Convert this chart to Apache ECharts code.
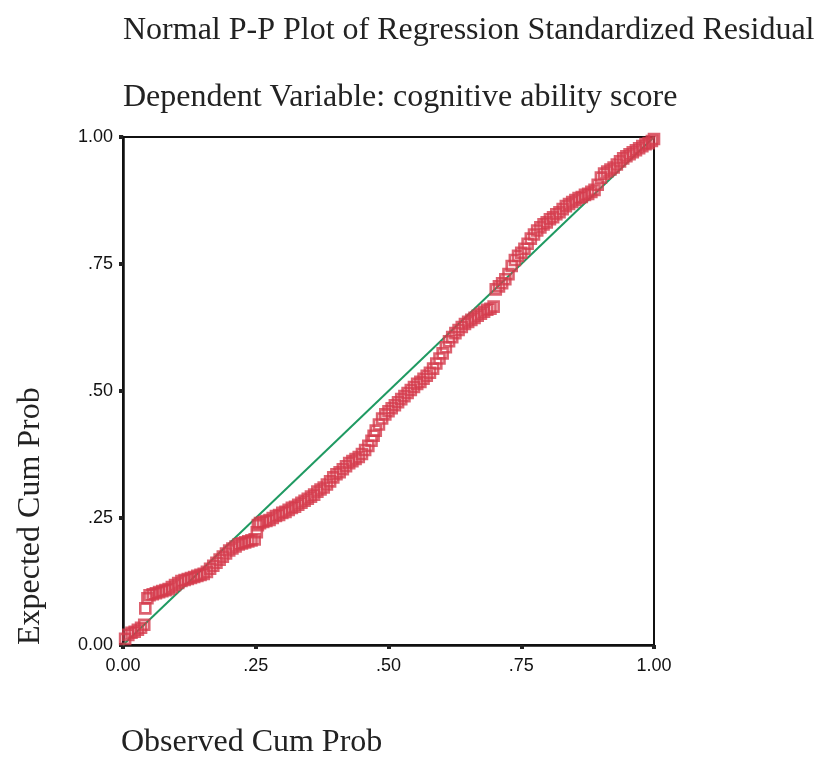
<!DOCTYPE html>
<html>
<head>
<meta charset="utf-8">
<script src="https://cdn.jsdelivr.net/npm/echarts@6/dist/echarts.min.js"></script>
<style>
  html, body { margin: 0; padding: 0; background: #fff; }
  #pp_plot { width: 818px; height: 759px; }
</style>
</head>
<body>
<div id="pp_plot"></div>
<script>
// observed cum prob (x) / expected cum prob (y)
var observed = [
  0.004, 0.010, 0.016, 0.022, 0.028, 0.034, 0.040, 0.042, 0.046, 0.050,
  0.056, 0.062, 0.068, 0.074, 0.080, 0.086, 0.092, 0.098, 0.104, 0.110,
  0.116, 0.122, 0.128, 0.134, 0.140, 0.146, 0.152, 0.158, 0.164, 0.170,
  0.176, 0.182, 0.188, 0.194, 0.200, 0.206, 0.212, 0.218, 0.224, 0.230,
  0.236, 0.242, 0.248, 0.252, 0.254, 0.258, 0.264, 0.270, 0.276, 0.282,
  0.288, 0.294, 0.300, 0.306, 0.312, 0.318, 0.324, 0.330, 0.336, 0.342,
  0.348, 0.354, 0.360, 0.366, 0.372, 0.378, 0.384, 0.390, 0.396, 0.402,
  0.408, 0.414, 0.420, 0.426, 0.432, 0.438, 0.444, 0.450, 0.456, 0.462,
  0.468, 0.472, 0.476, 0.482, 0.488, 0.494, 0.500, 0.506, 0.512, 0.518,
  0.524, 0.530, 0.536, 0.542, 0.548, 0.554, 0.560, 0.566, 0.572, 0.578,
  0.584, 0.590, 0.596, 0.602, 0.608, 0.614, 0.620, 0.626, 0.632, 0.638,
  0.644, 0.650, 0.656, 0.662, 0.668, 0.674, 0.680, 0.686, 0.692, 0.698,
  0.702, 0.708, 0.714, 0.720, 0.726, 0.732, 0.738, 0.744, 0.750, 0.756,
  0.762, 0.768, 0.774, 0.780, 0.786, 0.792, 0.798, 0.804, 0.810, 0.816,
  0.822, 0.828, 0.834, 0.840, 0.846, 0.852, 0.858, 0.864, 0.870, 0.876,
  0.882, 0.888, 0.894, 0.900, 0.906, 0.912, 0.918, 0.924, 0.930, 0.936,
  0.942, 0.948, 0.954, 0.960, 0.966, 0.972, 0.978, 0.984, 0.990, 0.996,
  1.000
];
var expected = [
  0.012, 0.020, 0.024, 0.026, 0.030, 0.034, 0.040, 0.072, 0.092, 0.098,
  0.100, 0.102, 0.104, 0.106, 0.108, 0.110, 0.114, 0.118, 0.122, 0.126,
  0.128, 0.130, 0.132, 0.134, 0.136, 0.138, 0.140, 0.144, 0.150, 0.156,
  0.162, 0.168, 0.174, 0.180, 0.186, 0.190, 0.194, 0.198, 0.200, 0.202,
  0.204, 0.206, 0.208, 0.222, 0.236, 0.240, 0.242, 0.244, 0.246, 0.250,
  0.254, 0.256, 0.260, 0.262, 0.266, 0.270, 0.272, 0.276, 0.280, 0.284,
  0.288, 0.292, 0.296, 0.302, 0.306, 0.310, 0.316, 0.322, 0.330, 0.336,
  0.340, 0.346, 0.352, 0.358, 0.362, 0.366, 0.370, 0.376, 0.384, 0.392,
  0.402, 0.412, 0.422, 0.434, 0.446, 0.454, 0.460, 0.466, 0.472, 0.478,
  0.484, 0.490, 0.496, 0.502, 0.508, 0.514, 0.518, 0.524, 0.530, 0.536,
  0.544, 0.554, 0.564, 0.574, 0.586, 0.598, 0.606, 0.614, 0.620, 0.626,
  0.632, 0.636, 0.640, 0.644, 0.648, 0.652, 0.656, 0.660, 0.662, 0.666,
  0.700, 0.706, 0.712, 0.720, 0.730, 0.746, 0.758, 0.766, 0.772, 0.780,
  0.790, 0.800, 0.808, 0.816, 0.822, 0.828, 0.832, 0.838, 0.842, 0.848,
  0.852, 0.858, 0.864, 0.868, 0.872, 0.876, 0.880, 0.882, 0.886, 0.888,
  0.892, 0.896, 0.906, 0.920, 0.928, 0.932, 0.936, 0.940, 0.946, 0.952,
  0.958, 0.962, 0.966, 0.970, 0.974, 0.978, 0.982, 0.986, 0.988, 0.992,
  0.996
];
var refLine = [[0, 0], [1, 1]];
var tickValues = [0, 0.25, 0.5, 0.75, 1];
var tickLabels = ['0.00', '.25', '.50', '.75', '1.00'];

var points = [];
for (var i = 0; i < observed.length; i++) {
  points.push([observed[i], expected[i]]);
}

function tickFmt(v) {
  var k = tickValues.indexOf(Math.round(v * 100) / 100);
  return k >= 0 ? tickLabels[k] : '';
}

var serif = '"Liberation Serif", "DejaVu Serif", serif';

var ppChart = echarts.init(document.getElementById('pp_plot'));
var option = {
  backgroundColor: '#fff',
  animation: false,
  title: [
    {
      text: 'Normal P-P Plot of Regression Standardized Residual',
      left: 118, top: 10,
      textStyle: { fontFamily: serif, fontWeight: 'normal', fontSize: 32, color: '#222' }
    },
    {
      text: 'Dependent Variable: cognitive ability score',
      left: 118, top: 77,
      textStyle: { fontFamily: serif, fontWeight: 'normal', fontSize: 32, color: '#222' }
    }
  ],
  graphic: [
    {
      type: 'text', left: 121, top: 727,
      style: { text: 'Observed Cum Prob', font: '32px ' + serif, fill: '#222' }
    },
    {
      type: 'text', x: 15, y: 645, rotation: Math.PI / 2,
      style: { text: 'Expected Cum Prob', font: '32px ' + serif, fill: '#222', textAlign: 'left', textVerticalAlign: 'top' }
    }
  ],
  grid: {
    left: 123, right: 164, top: 137, bottom: 114,
    show: true, borderColor: '#111', borderWidth: 2
  },
  xAxis: {
    type: 'value', min: 0, max: 1, interval: 0.25,
    splitLine: { show: false },
    axisLine: { lineStyle: { color: '#111', width: 2.5 } },
    axisTick: { length: 4, lineStyle: { color: '#222', width: 4 } },
    axisLabel: { formatter: tickFmt, margin: 12, fontSize: 18, color: '#111', fontFamily: '"Liberation Sans", Arial, sans-serif' }
  },
  yAxis: {
    type: 'value', min: 0, max: 1, interval: 0.25,
    splitLine: { show: false },
    axisLine: { lineStyle: { color: '#111', width: 2.5 } },
    axisTick: { length: 4, lineStyle: { color: '#222', width: 4 } },
    axisLabel: { formatter: tickFmt, margin: 10, fontSize: 18, color: '#111', fontFamily: '"Liberation Sans", Arial, sans-serif' }
  },
  series: [
    {
      name: 'reference',
      type: 'line',
      data: refLine,
      symbol: 'none',
      lineStyle: { color: '#1f9a62', width: 2 },
      z: 2
    },
    {
      name: 'residual',
      type: 'scatter',
      data: points,
      symbol: 'rect',
      symbolSize: 10,
      itemStyle: { color: 'rgba(255,255,255,0)', borderColor: '#d43a4b', borderWidth: 2.6 },
      z: 3
    }
  ]
};
ppChart.setOption(option);
</script>
</body>
</html>
